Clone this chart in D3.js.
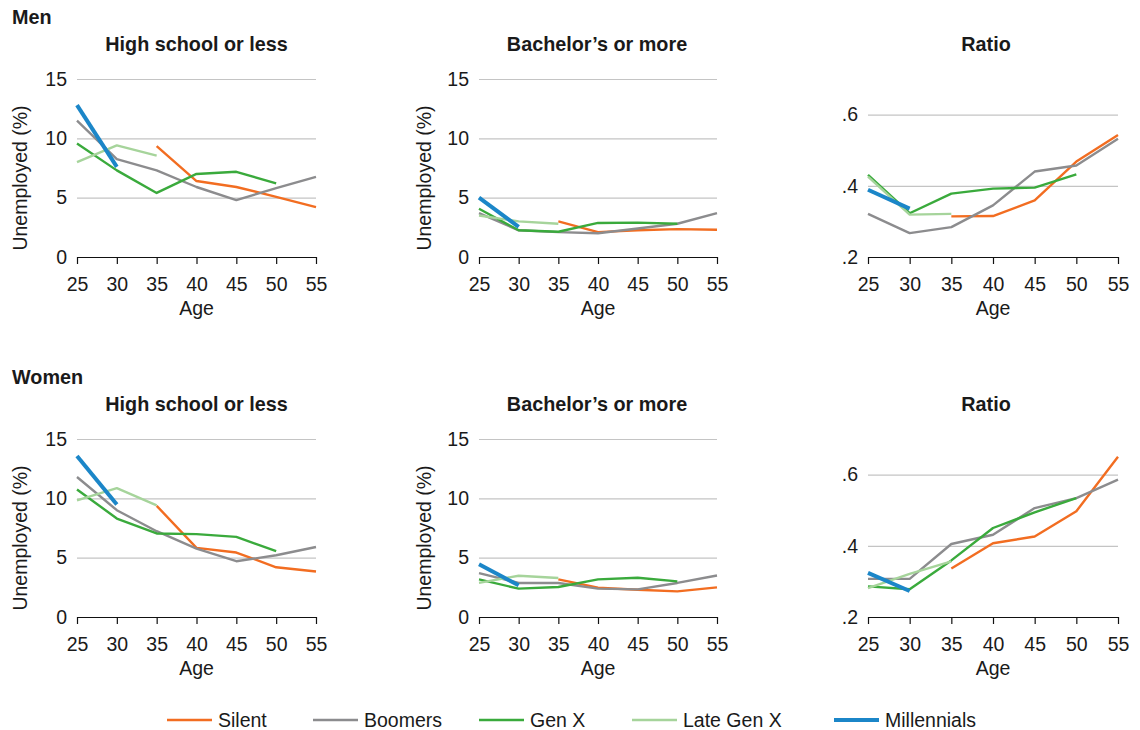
<!DOCTYPE html>
<html>
<head>
<meta charset="utf-8">
<script src="https://cdn.jsdelivr.net/npm/d3@7"></script>
<style>
    body { margin: 0; background: #fff; }
    svg { font-family: "Liberation Sans", Arial, Helvetica, sans-serif; }
</style>
</head>
<body>
<svg id="chart" width="1140" height="730"></svg>
<script>
const ages = [25, 30, 35, 40, 45, 50, 55];
const generations = ['Silent', 'Boomers', 'Gen X', 'Late Gen X', 'Millennials'];
const colors = ['#f26d21', '#8c8c8e', '#3aaa3c', '#a6d49b', '#1b86c8'];

// values per generation, in the order of generations, one per age
const menHighSchool = [
    [null, null, 9.35, 6.4, 5.9, 5.07, 4.2],
    [11.5, 8.25, 7.3, 5.9, 4.8, 5.8, 6.75],
    [9.57, 7.3, 5.4, 7.0, 7.18, 6.2, null],
    [8.0, 9.4, 8.55, null, null, null, null],
    [12.8, 7.6, null, null, null, null, null]
];
const menBachelor = [
    [null, null, 3.0, 2.1, 2.25, 2.35, 2.3],
    [3.7, 2.25, 2.1, 2.0, 2.4, 2.8, 3.7],
    [4.07, 2.25, 2.13, 2.87, 2.9, 2.8, null],
    [3.5, 3.0, 2.8, null, null, null, null],
    [5.0, 2.53, null, null, null, null, null]
];
const menRatio = [
    [null, null, 0.314, 0.315, 0.359, 0.468, 0.543],
    [0.321, 0.267, 0.284, 0.345, 0.440, 0.457, 0.532],
    [0.431, 0.323, 0.378, 0.392, 0.395, 0.432, null],
    [0.426, 0.319, 0.321, null, null, null, null],
    [0.389, 0.336, null, null, null, null, null]
];
const womenHighSchool = [
    [null, null, 9.37, 5.83, 5.43, 4.19, 3.83],
    [11.8, 9.0, 7.23, 5.77, 4.7, 5.2, 5.9],
    [10.75, 8.3, 7.04, 6.98, 6.75, 5.55, null],
    [9.82, 10.86, 9.4, null, null, null, null],
    [13.57, 9.48, null, null, null, null, null]
];
const womenBachelor = [
    [null, null, 3.17, 2.47, 2.3, 2.16, 2.5],
    [3.7, 2.87, 2.87, 2.39, 2.33, 2.87, 3.5],
    [3.17, 2.39, 2.53, 3.17, 3.31, 3.0, null],
    [2.87, 3.48, 3.29, null, null, null, null],
    [4.44, 2.67, null, null, null, null, null]
];
const womenRatio = [
    [null, null, 0.336, 0.407, 0.426, 0.497, 0.650],
    [0.307, 0.307, 0.405, 0.431, 0.506, 0.534, 0.586],
    [0.286, 0.278, 0.359, 0.450, 0.494, 0.534, null],
    [0.281, 0.321, 0.356, null, null, null, null],
    [0.324, 0.273, null, null, null, null, null]
];

const pctTicks = [0, 5, 10, 15];
const ratioTicks = [0.2, 0.4, 0.6];

const svg = d3.select('#chart');
const textColor = '#1a1a1a';
const fontSize = 19.5;

// layout of the columns and rows
const columns = [
    { x0: 77, x1: 316, title: 'High school or less', kind: 'pct', ylabelX: 27, titleShift: 0 },
    { x0: 479, x1: 717, title: 'Bachelor\u2019s or more', kind: 'pct', ylabelX: 431, titleShift: -1 },
    { x0: 868, x1: 1118, title: 'Ratio', kind: 'ratio', ylabelX: null, titleShift: -7 }
];
const rows = [
    { top: 79, label: 'Men', panels: [menHighSchool, menBachelor, menRatio] },
    { top: 439, label: 'Women', panels: [womenHighSchool, womenBachelor, womenRatio] }
];
const plotHeight = 178;

const drawPanel = (g, col, data) => {
    const width = col.x1 - col.x0;
    const x = d3.scaleLinear().domain([25, 55]).range([0, width]);
    const y = col.kind === 'pct'
        ? d3.scaleLinear().domain([0, 15]).range([plotHeight, 0])
        : d3.scaleLinear().domain([0.2, 0.7]).range([plotHeight, 0]);

    const yAxis = d3.axisLeft(y)
        .tickValues(col.kind === 'pct' ? pctTicks : ratioTicks)
        .tickSize(-width)
        .tickPadding(10)
        .tickFormat(col.kind === 'pct' ? d3.format('d') : d => d3.format('.1f')(d).replace(/^0/, ''));

    const ya = g.append('g').call(yAxis);
    ya.select('.domain').remove();
    ya.selectAll('.tick line').attr('stroke', '#c4c4c4').attr('stroke-width', 1.2);
    ya.selectAll('.tick text')
        .attr('font-size', fontSize)
        .attr('fill', textColor)
        .attr('font-family', null);

    const xAxis = d3.axisBottom(x)
        .tickValues(ages)
        .tickSize(7)
        .tickSizeOuter(0)
        .tickPadding(13);

    const xa = g.append('g')
        .attr('transform', `translate(0,${plotHeight})`)
        .call(xAxis);
    xa.select('.domain').attr('stroke', '#111').attr('stroke-width', 1.2);
    xa.selectAll('.tick line').attr('stroke', '#111').attr('stroke-width', 1.2);
    xa.selectAll('.tick text')
        .attr('font-size', fontSize)
        .attr('fill', textColor)
        .attr('font-family', null);

    g.append('text')
        .attr('x', width / 2)
        .attr('y', plotHeight + 58)
        .attr('text-anchor', 'middle')
        .attr('font-size', fontSize)
        .attr('fill', textColor)
        .text('Age');

    g.append('text')
        .attr('x', width / 2 + col.titleShift)
        .attr('y', -28)
        .attr('text-anchor', 'middle')
        .attr('font-size', fontSize + 0.3)
        .attr('font-weight', 'bold')
        .attr('fill', textColor)
        .text(col.title);

    const line = d3.line()
        .defined(d => d != null)
        .x((d, i) => x(ages[i]))
        .y(d => y(d));

    data.forEach((values, i) => {
        g.append('path')
            .datum(values)
            .attr('fill', 'none')
            .attr('stroke', colors[i])
            .attr('stroke-width', generations[i] === 'Millennials' ? 4 : 2.4)
            .attr('stroke-linejoin', 'round')
            .attr('d', line);
    });
};

rows.forEach(row => {
    svg.append('text')
        .attr('x', 12)
        .attr('y', row.top - 55)
        .attr('font-size', fontSize + 0.3)
        .attr('font-weight', 'bold')
        .attr('fill', textColor)
        .text(row.label);

    columns.forEach((col, ci) => {
        const g = svg.append('g').attr('transform', `translate(${col.x0},${row.top})`);
        drawPanel(g, col, row.panels[ci]);

        if (col.ylabelX !== null) {
            svg.append('text')
                .attr('transform', `translate(${col.ylabelX},${row.top + 99}) rotate(-90)`)
                .attr('text-anchor', 'middle')
                .attr('font-size', fontSize)
                .attr('fill', textColor)
                .text('Unemployed (%)');
        }
    });
});

// legend
const legendX = [167, 313, 479, 632, 834];
const legendY = 720;
const legend = svg.append('g');
generations.forEach((name, i) => {
    legend.append('line')
        .attr('x1', legendX[i])
        .attr('x2', legendX[i] + 45)
        .attr('y1', legendY)
        .attr('y2', legendY)
        .attr('stroke', colors[i])
        .attr('stroke-width', name === 'Millennials' ? 4 : 2.6);
    legend.append('text')
        .attr('x', legendX[i] + 51)
        .attr('y', legendY)
        .attr('dy', '0.35em')
        .attr('font-size', fontSize)
        .attr('fill', textColor)
        .text(name);
});
</script>
</body>
</html>
